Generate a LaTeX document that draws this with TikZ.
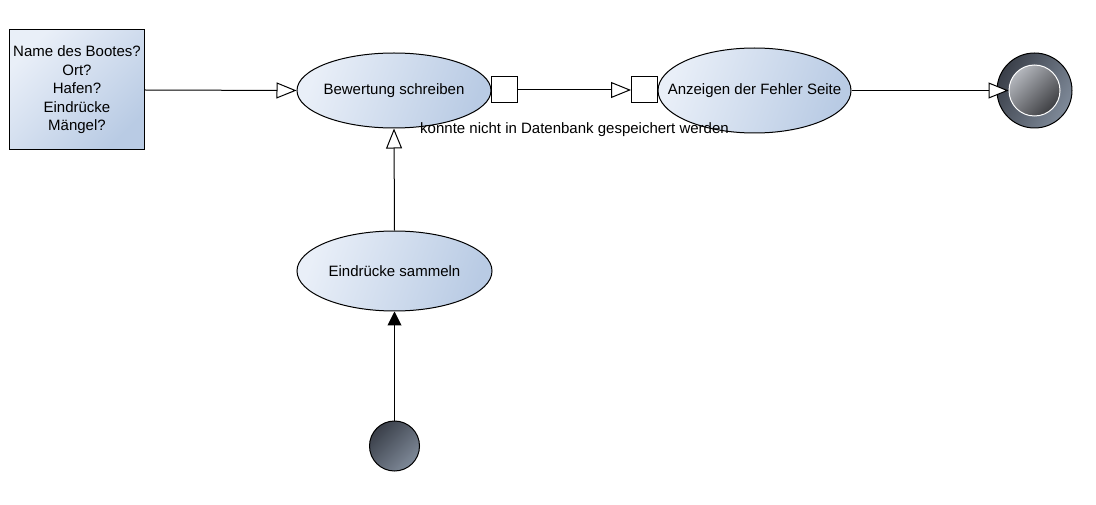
\documentclass[tikz,border=0pt]{standalone}
\usepackage{fontspec}
\setmainfont{Liberation Sans}
\usetikzlibrary{shapes.geometric,arrows.meta}
\definecolor{actlight}{HTML}{E9EFF8}
\definecolor{actdark}{HTML}{B9CBE4}
\definecolor{rlight}{HTML}{3A3F49}
\definecolor{rdark}{HTML}{7F8A99}
\definecolor{inlight}{HTML}{B4B7BD}
\definecolor{indark}{HTML}{3D3E42}
\tikzset{
  act/.style={ellipse, draw=black, line width=1pt, inner sep=0pt,
    top color=actlight, bottom color=actdark, shading angle=70},
  note/.style={rectangle, draw=black, line width=1pt, inner sep=0pt,
    top color=actlight, bottom color=actdark, shading angle=45,
    minimum width=135pt, minimum height=120pt, align=center},
  pin/.style={rectangle, draw=black, fill=white, line width=1pt,
    minimum size=26pt, inner sep=0pt},
  startnode/.style={circle, draw=black, line width=1pt, minimum size=50pt, inner sep=0pt,
    top color=rlight, bottom color=rdark, shading angle=45},
  endouter/.style={circle, draw=black, line width=1pt, minimum size=75pt, inner sep=0pt,
    top color=rlight, bottom color=rdark, shading angle=60},
  endinner/.style={circle, draw=white, line width=1pt, minimum size=51pt, inner sep=0pt,
    top color=inlight, bottom color=indark, shading angle=45},
  flow/.style={line width=1pt, -{Triangle[length=20pt,width=16pt,fill=white]}},
  flowfilled/.style={line width=1pt, -{Triangle[length=14pt,width=14pt]}},
  txt/.style={font=\fontsize{15}{18.5}\selectfont, text=black}
}
\begin{document}
\begin{tikzpicture}[x=1pt,y=-1pt]
\useasboundingbox (0,0) rectangle (1096,505);
\node[note, txt] (info) at (77,90) {Name des Bootes?\\Ort?\\Hafen?\\Eindrücke\\Mängel?};
\node[act, minimum width=194pt, minimum height=75pt,
  label={[txt]center:Bewertung schreiben}] (bew) at (394,90.5) {};
\node[act, minimum width=195pt, minimum height=80pt,
  label={[txt]center:Eindrücke sammeln}] (ein) at (394.5,271) {};
\node[act, minimum width=193pt, minimum height=85pt,
  label={[txt]center:Anzeigen der Fehler Seite}] (fehler) at (754.5,90.5) {};
\node[pin] (p1) at (504.5,90) {};
\node[pin] (p2) at (644.5,90) {};
\node[startnode] (start) at (394.5,446) {};
\node[endouter] (endo) at (1034.5,90.5) {};
\node[endinner] (endi) at (1034.5,90.5) {};
\draw[flow] (info.east) -- (bew.west);
\draw[flow] (ein.north) -- (bew.south);
\draw[flowfilled] (start.north) -- (ein.south);
\draw[flow] (p1.east) -- node[txt, pos=0.5, yshift=-39.5pt] {konnte nicht in Datenbank gespeichert werden} (p2.west);
\draw[flow] (fehler.east) -- (endi.west);
\end{tikzpicture}
\end{document}
